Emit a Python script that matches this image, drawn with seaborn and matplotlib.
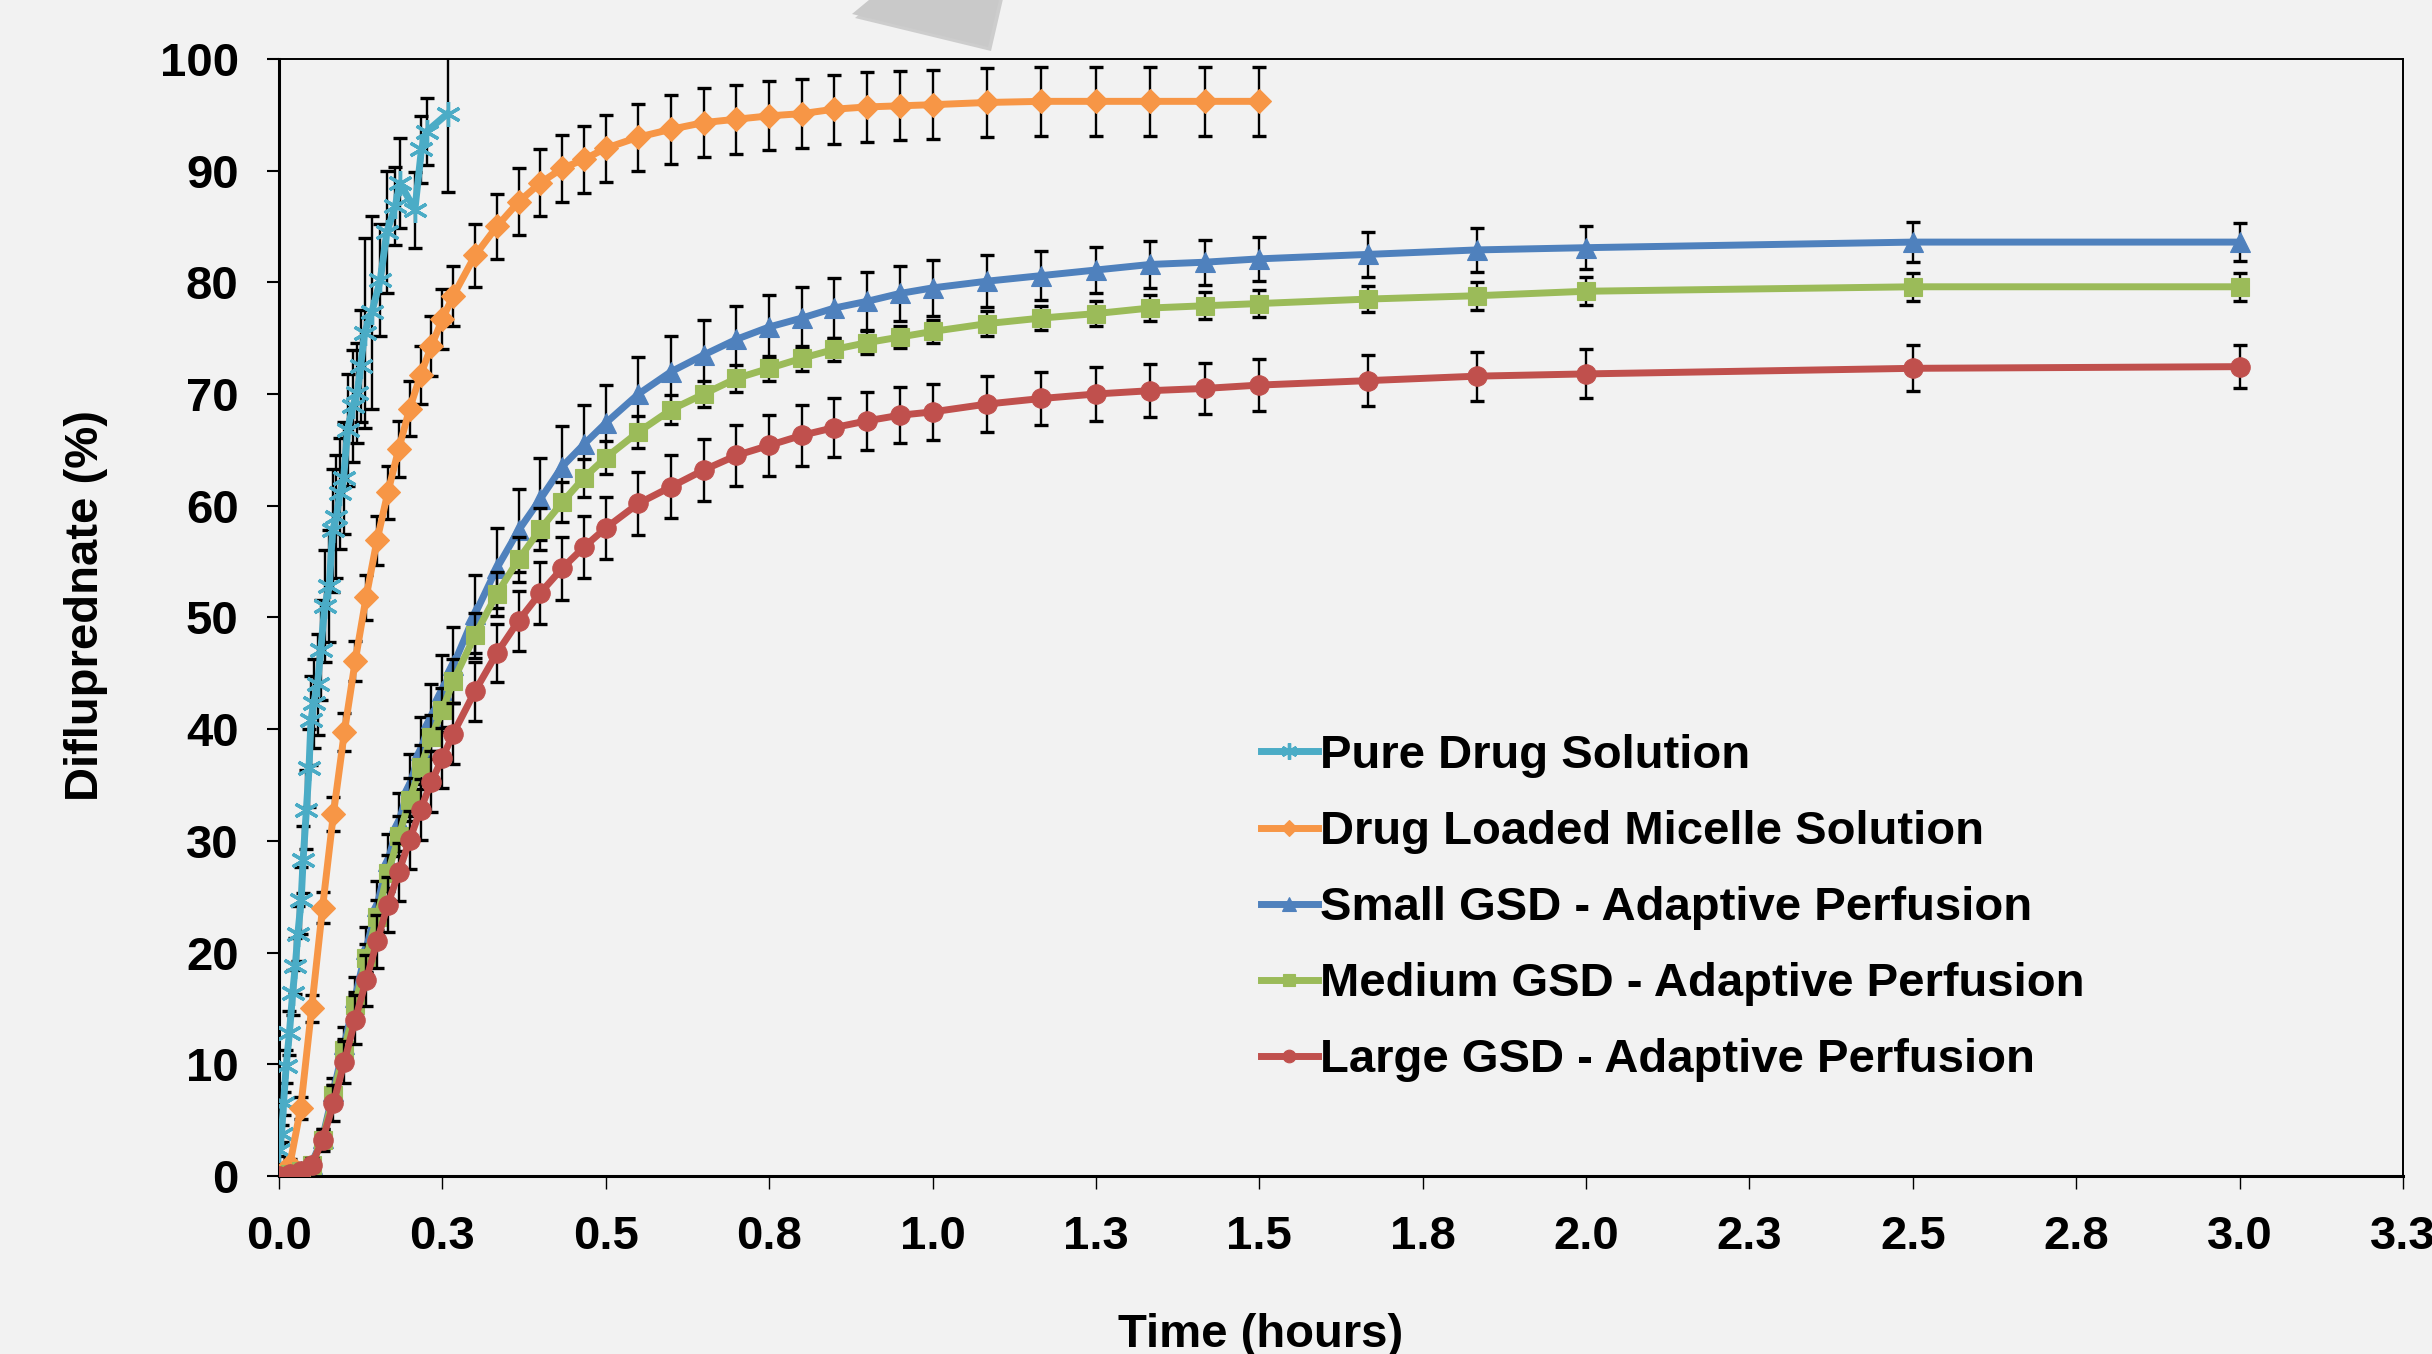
import numpy as np
import matplotlib
matplotlib.use("Agg")
import matplotlib.pyplot as plt
import seaborn as sns
from matplotlib.patches import Polygon

# ----------------------------
# Data
# ----------------------------
pure_time_h = [0.000, 0.004, 0.007, 0.011, 0.016, 0.021, 0.025, 0.029, 0.034, 0.037,
               0.042, 0.046, 0.049, 0.053, 0.059, 0.064, 0.070, 0.077, 0.082, 0.088,
               0.093, 0.099, 0.105, 0.113, 0.120, 0.125, 0.131, 0.142, 0.155, 0.165,
               0.178, 0.185, 0.208, 0.218, 0.226, 0.258]
pure_release = [2.3, 3.8, 6.5, 9.8, 12.8, 16.4, 18.8, 21.7, 24.7, 28.3,
                32.8, 36.5, 40.8, 42.3, 44.0, 47.1, 51.0, 52.8, 57.8, 59.0,
                61.1, 62.5, 66.8, 68.9, 70.1, 72.5, 75.5, 77.3, 80.2, 84.5,
                86.8, 88.9, 86.5, 91.9, 93.5, 95.1]
pure_err = [0.5, 0.8, 1.0, 1.5, 2.0, 2.0, 2.5, 2.5, 3.0, 3.0,
            3.5, 3.5, 4.0, 4.0, 4.5, 4.5, 5.0, 5.0, 5.5, 5.5,
            5.0, 5.0, 5.0, 5.0, 4.5, 5.0, 8.5, 8.6, 5.0, 5.5,
            3.5, 4.0, 3.4, 3.0, 3.0, 7.0]

micelle_time_min = [0, 1, 2, 3, 4, 5, 6, 7, 8, 9, 10, 11, 12, 13, 14, 15, 16,
                    18, 20, 22, 24, 26, 28, 30,
                    33, 36, 39, 42, 45, 48, 51, 54, 57, 60,
                    65, 70, 75, 80, 85, 90]
micelle_release = [0.0, 1.0, 6.1, 15.0, 24.0, 32.4, 39.7, 46.1, 51.8, 56.9, 61.2, 65.1, 68.7, 71.7, 74.3, 76.7, 78.8,
                   82.4, 85.0, 87.2, 88.9, 90.2, 91.0, 92.0,
                   93.0, 93.7, 94.3, 94.6, 94.9, 95.1, 95.5, 95.7, 95.8, 95.9,
                   96.1, 96.2, 96.2, 96.2, 96.2, 96.2]
micelle_err = [0.0, 0.5, 1.0, 1.2, 1.4, 1.5, 1.7, 1.8, 2.0, 2.2, 2.4, 2.5, 2.5, 2.6, 2.7, 2.7, 2.7,
               2.8, 2.9, 3.0, 3.0, 3.0, 3.0, 3.0,
               3.0, 3.1, 3.1, 3.1, 3.1, 3.1, 3.1, 3.1, 3.1, 3.1,
               3.1, 3.1, 3.1, 3.1, 3.1, 3.1]

gsd_time_min = micelle_time_min + [100, 110, 120, 150, 180]

small_release = [0.0, 0.2, 0.4, 1.1, 3.4, 7.6, 11.8, 16.0, 20.3, 24.2, 28.2, 31.7, 35.0, 38.1, 41.0, 43.4, 45.7,
                 50.3, 54.4, 57.8, 60.6, 63.5, 65.5, 67.4,
                 70.0, 72.0, 73.5, 74.9, 76.0, 76.8, 77.7, 78.3, 79.0, 79.5,
                 80.1, 80.6, 81.1, 81.6, 81.8, 82.1,
                 82.5, 82.9, 83.1, 83.6, 83.6]
small_err = [0.1, 0.2, 0.3, 0.5, 0.8, 1.2, 1.5, 1.8, 2.0, 2.2, 2.4, 2.6, 2.8, 3.0, 3.0, 3.2, 3.4,
             3.5, 3.6, 3.7, 3.7, 3.6, 3.5, 3.4,
             3.3, 3.2, 3.1, 3.0, 2.9, 2.8, 2.7, 2.6, 2.5, 2.5,
             2.3, 2.2, 2.1, 2.1, 2.0, 2.0,
             2.0, 2.0, 1.9, 1.8, 1.7]

medium_release = [0.0, 0.2, 0.4, 1.0, 3.2, 7.25, 11.3, 15.3, 19.5, 23.2, 27.1, 30.4, 33.7, 36.6, 39.3, 41.7, 44.3,
                  48.4, 52.1, 55.2, 57.9, 60.3, 62.5, 64.3,
                  66.6, 68.6, 70.0, 71.4, 72.3, 73.2, 74.0, 74.6, 75.1, 75.6,
                  76.3, 76.8, 77.2, 77.7, 77.9, 78.1,
                  78.5, 78.8, 79.2, 79.6, 79.6]
medium_err = [0.1, 0.2, 0.3, 0.5, 0.7, 0.9, 1.0, 1.2, 1.3, 1.5, 1.6, 1.8, 1.9, 2.0, 2.0, 2.0, 2.0,
              2.0, 2.0, 2.0, 1.9, 1.8, 1.7, 1.5,
              1.4, 1.3, 1.2, 1.2, 1.1, 1.1, 1.0, 1.0, 1.0, 1.0,
              1.1, 1.1, 1.1, 1.2, 1.2, 1.2,
              1.2, 1.25, 1.25, 1.25, 1.25]

large_release = [0.0, 0.2, 0.4, 1.0, 3.2, 6.5, 10.2, 14.0, 17.5, 21.0, 24.3, 27.2, 30.1, 32.8, 35.3, 37.4, 39.6,
                 43.4, 46.8, 49.7, 52.2, 54.4, 56.3, 58.0,
                 60.2, 61.7, 63.2, 64.5, 65.4, 66.3, 67.0, 67.6, 68.1, 68.4,
                 69.1, 69.6, 70.0, 70.3, 70.5, 70.8,
                 71.2, 71.6, 71.8, 72.3, 72.45]
large_err = [0.1, 0.2, 0.3, 0.6, 1.0, 1.6, 1.9, 2.2, 2.3, 2.4, 2.5, 2.6, 2.6, 2.7, 2.7, 2.7, 2.7,
             2.65, 2.6, 2.7, 2.8, 2.8, 2.8, 2.8,
             2.8, 2.8, 2.8, 2.7, 2.7, 2.7, 2.6, 2.6, 2.5, 2.5,
             2.5, 2.4, 2.4, 2.4, 2.3, 2.3,
             2.3, 2.2, 2.2, 2.05, 1.9]

series_labels = ["Pure Drug Solution",
                 "Drug Loaded Micelle Solution",
                 "Small GSD - Adaptive Perfusion",
                 "Medium GSD - Adaptive Perfusion",
                 "Large GSD - Adaptive Perfusion"]

x_tick_labels = ["0.0", "0.3", "0.5", "0.8", "1.0", "1.3", "1.5", "1.8",
                 "2.0", "2.3", "2.5", "2.8", "3.0", "3.3"]
y_tick_values = [0, 10, 20, 30, 40, 50, 60, 70, 80, 90, 100]

# ----------------------------
# Style
# ----------------------------
bg = "#F2F2F2"
plt.rcParams['font.family'] = ['Liberation Sans', 'DejaVu Sans']
plt.rcParams['font.weight'] = 'bold'

micelle_time_h = [m / 60 for m in micelle_time_min]
gsd_time_h = [m / 60 for m in gsd_time_min]

series = [
    (pure_time_h, pure_release, pure_err, "#4BACC6", (6, 2, 0), 18, 5.0),
    (micelle_time_h, micelle_release, micelle_err, "#F79646", "D", 12, 5.0),
    (gsd_time_h, small_release, small_err, "#4F81BD", "^", 15, 5.0),
    (gsd_time_h, medium_release, medium_err, "#9BBB59", "s", 13, 5.0),
    (gsd_time_h, large_release, large_err, "#C0504D", "o", 14, 5.0),
]

fig = plt.figure(figsize=(24.32, 13.54), dpi=100, facecolor=bg)
ax = fig.add_axes([0.1147, 0.1315, 0.8734, 0.8250])
ax.set_facecolor(bg)

for i, (t, y, e, color, marker, ms, lw) in enumerate(series):
    z = 3 + i
    ax.errorbar(t, y, yerr=e, fmt='none', ecolor='black', elinewidth=1.7,
                capsize=5, capthick=2.4, zorder=z)
    sns.lineplot(x=t, y=y, ax=ax, color=color, marker=marker,
                 linewidth=lw, label=series_labels[i], errorbar=None,
                 zorder=z + 0.5)
    ln = ax.lines[-1]
    ln.set_markersize(ms)
    ln.set_markeredgecolor(color)
    ln.set_markerfacecolor(color)
    ln.set_markeredgewidth(2.4 if i == 0 else 0.8)
    ln.set_linewidth(lw)

ax.set_xlim(0, 3.25)
ax.set_ylim(0, 100)
ax.set_xticks(np.arange(0, 3.26, 0.25))
ax.set_xticklabels(x_tick_labels)
ax.set_yticks(y_tick_values)

ax.tick_params(axis='x', direction='out', length=9, width=1.0, labelsize=34, pad=19)
ax.tick_params(axis='y', direction='out', length=9, width=1.5, labelsize=34, pad=20)

for side in ['left', 'bottom']:
    ax.spines[side].set_linewidth(2.2)
for side in ['top', 'right']:
    ax.spines[side].set_linewidth(1.4)
for s in ax.spines.values():
    s.set_color('black')

ax.set_xlabel("Time (hours)", fontsize=34, fontweight='bold')
ax.xaxis.set_label_coords(0.4623, -0.1227)
ax.set_ylabel("Difluprednate (%)", fontsize=34, fontweight='bold')
ax.yaxis.set_label_coords(-0.0909, 0.511)
ax.yaxis.label.set_verticalalignment('center')

leg = ax.legend(loc='upper left', bbox_to_anchor=(1261 / 2432, 1 - 734 / 1354),
                bbox_transform=fig.transFigure, frameon=False, fontsize=34,
                handlelength=1.2, handletextpad=0.05, labelspacing=0.68,
                borderpad=0, borderaxespad=0, markerscale=0.65)
for txt in leg.get_texts():
    txt.set_fontweight('bold')

# grey shape cut off at the top of the slide
W, H = 2432, 1354
shape_px = [(875, -5), (1000, -5), (988, 47), (852, 14)]
shadow = Polygon([((x + 3) / W, 1 - (y + 4) / H) for x, y in shape_px],
                 closed=True, transform=fig.transFigure, facecolor='#b5b5b5',
                 edgecolor='none', alpha=0.6)
shape = Polygon([(x / W, 1 - y / H) for x, y in shape_px], closed=True,
                transform=fig.transFigure, facecolor='#c9c9c9', edgecolor='none')
fig.add_artist(shadow)
fig.add_artist(shape)

fig.savefig("out.png", dpi=100, facecolor=bg)
